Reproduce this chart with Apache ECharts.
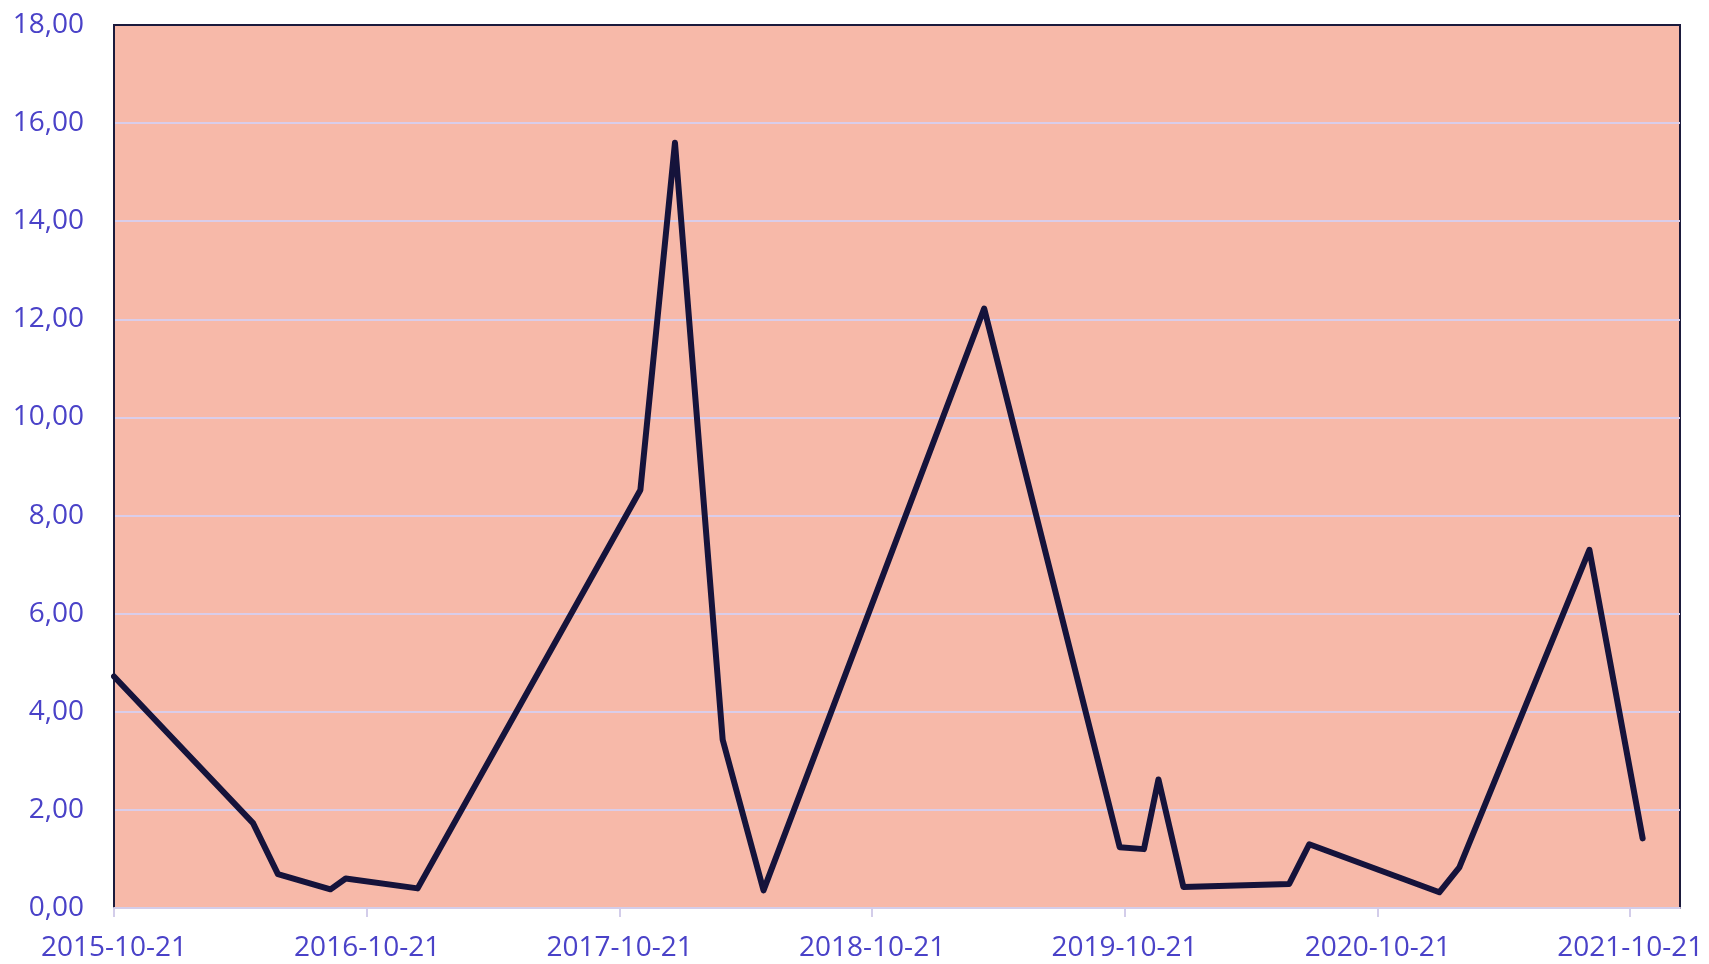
<!DOCTYPE html>
<html>
<head>
<meta charset="utf-8">
<script src="https://cdn.jsdelivr.net/npm/echarts@6/dist/echarts.min.js"></script>
<style>
    html, body { margin: 0; padding: 0; background: #ffffff; }
    #chart { width: 1709px; height: 964px; }
</style>
</head>
<body>
<div id="chart"></div>
<script>
// dates of the measurements and their values
var dates = [
    '2015-10-21', '2016-05-09', '2016-06-14', '2016-08-29', '2016-09-20', '2017-01-02',
    '2017-11-20', '2018-01-09', '2018-03-19', '2018-05-17', '2019-04-01', '2019-10-14',
    '2019-11-18', '2019-12-09', '2020-01-14', '2020-06-15', '2020-07-14', '2021-01-18',
    '2021-02-16', '2021-08-23', '2021-11-08'
];
var values = [
    4.72, 1.73, 0.69, 0.38, 0.60, 0.40,
    8.52, 15.60, 3.43, 0.36, 12.22, 1.24,
    1.20, 2.62, 0.43, 0.49, 1.30, 0.32,
    0.83, 7.30, 1.42
];
var tickLabels = ['2015-10-21', '2016-10-21', '2017-10-21', '2018-10-21', '2019-10-21', '2020-10-21', '2021-10-21'];
var xMin = '2015-10-21', xMax = '2022-01-01';

function toTime(s) {
    var p = s.split('-');
    return Date.UTC(+p[0], +p[1] - 1, +p[2]);
}

var tickTimes = tickLabels.map(toTime);
var textColor = '#4a42c8';

var myChart = echarts.init(document.getElementById('chart'));
var option = {
    animation: false,
    grid: {
        left: 114,
        right: 29,
        top: 25,
        bottom: 56,
        show: true,
        backgroundColor: '#f7b9a9',
        borderColor: '#1b1a3c',
        borderWidth: 2
    },
    xAxis: {
        type: 'value',
        min: toTime(xMin),
        max: toTime(xMax),
        axisLine: { lineStyle: { color: '#d3cdea', width: 2 } },
        axisTick: {
            show: true,
            length: 9,
            customValues: tickTimes,
            lineStyle: { color: '#d3cdea', width: 2 }
        },
        axisLabel: {
            customValues: tickTimes,
            margin: 26,
            color: textColor,
            fontFamily: 'Open Sans',
            fontSize: 28,
            formatter: function (v) {
                var i = tickTimes.indexOf(v);
                return i >= 0 ? tickLabels[i] : '';
            }
        },
        splitLine: { show: false }
    },
    yAxis: {
        type: 'value',
        min: 0,
        max: 18,
        interval: 2,
        axisLine: { show: true, lineStyle: { color: '#1b1a3c', width: 2 } },
        axisTick: { show: false },
        axisLabel: {
            margin: 30,
            color: textColor,
            fontFamily: 'Open Sans',
            fontSize: 28,
            formatter: function (v) {
                return v.toFixed(2).replace('.', ',');
            }
        },
        splitLine: {
            showMinLine: false,
            showMaxLine: false,
            lineStyle: { color: '#d9cdea', width: 2 }
        }
    },
    series: [
        {
            type: 'line',
            data: dates.map(function (d, i) { return [toTime(d), values[i]]; }),
            symbol: 'none',
            lineStyle: {
                color: '#15133b',
                width: 6,
                cap: 'round',
                join: 'round'
            }
        }
    ]
};
myChart.setOption(option);
</script>
</body>
</html>
